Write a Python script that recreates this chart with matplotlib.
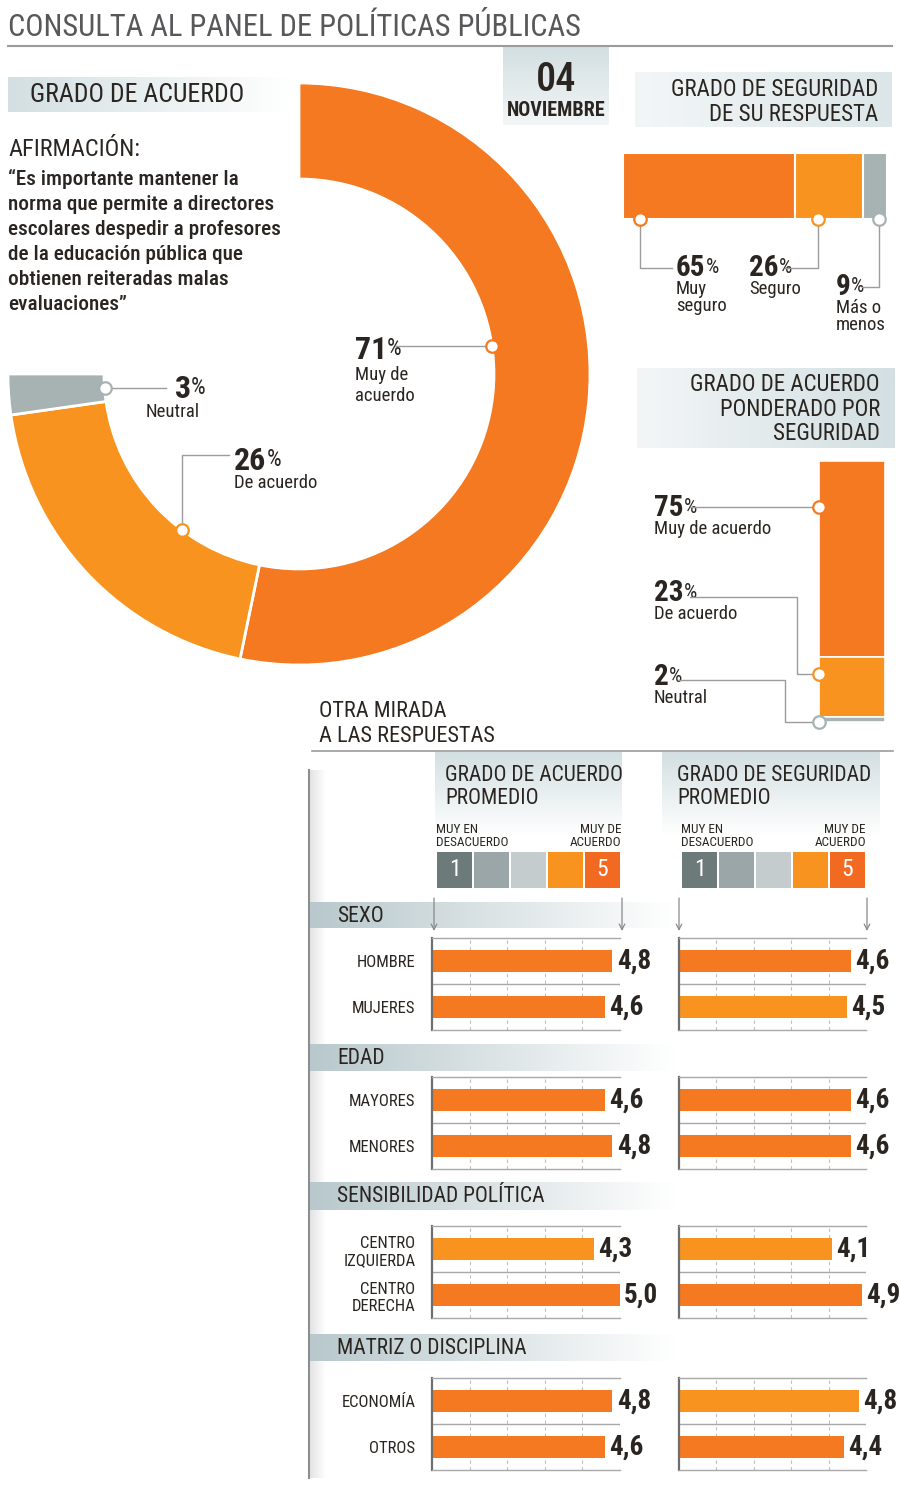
import numpy as np
import matplotlib
matplotlib.use('Agg')
import matplotlib.pyplot as plt
from matplotlib import font_manager
from matplotlib.colors import to_rgba

W, H = 900, 1486

# ---- data ----
acuerdo_labels = ['Muy de\nacuerdo', 'De acuerdo', 'Neutral']
acuerdo_pct = [71, 26, 3]

seguridad_labels = ['Muy\nseguro', 'Seguro', 'Más o\nmenos']
seguridad_pct = [65, 26, 9]

ponderado_labels = ['Muy de acuerdo', 'De acuerdo', 'Neutral']
ponderado_pct = [75, 23, 2]

scale_values = [1, 2, 3, 4, 5]

sections = ['SEXO', 'EDAD', 'SENSIBILIDAD POLÍTICA', 'MATRIZ O DISCIPLINA']
groups = [['HOMBRE', 'MUJERES'],
          ['MAYORES', 'MENORES'],
          ['CENTRO\nIZQUIERDA', 'CENTRO\nDERECHA'],
          ['ECONOMÍA', 'OTROS']]
acuerdo_prom = [[4.8, 4.6], [4.6, 4.8], [4.3, 5.0], [4.8, 4.6]]
seguridad_prom = [[4.6, 4.5], [4.6, 4.6], [4.1, 4.9], [4.8, 4.4]]

# ---- style ----
OR1 = '#F47920'
OR2 = '#F7931E'
GRIS = '#A7B2B3'
TXT = '#2A2520'
LINEA = '#9C9C9C'
CAJA = '#D3DFE2'
scale_colors = ['#6C7A7A', '#9AA6A7', '#C4CCCD', '#F7931E', '#F26A21']
acuerdo_cols = [[OR1, OR1], [OR1, OR1], [OR2, OR1], [OR1, OR1]]
seguridad_cols = [[OR1, OR2], [OR1, OR1], [OR2, OR1], [OR2, OR1]]

names = {f.name for f in font_manager.fontManager.ttflist}
COND = next((n for n in ['Liberation Sans Narrow', 'Roboto Condensed',
                         'DejaVu Sans Condensed'] if n in names), 'DejaVu Sans')
plt.rcParams['font.family'] = [COND, 'DejaVu Sans']

fig = plt.figure(figsize=(W / 100, H / 100), dpi=100)


def add_ax(x, y, w, h):
    return fig.add_axes([x / W, 1 - (y + h) / H, w / W, h / H])


def pixel_axes(z):
    a = add_ax(0, 0, W, H)
    a.set_zorder(z)
    a.axis('off')
    a.set_xlim(0, W)
    a.set_ylim(H, 0)
    a.set_autoscale_on(False)
    return a


bg = pixel_axes(-1)
ov = pixel_axes(10)


def grad(x0, x1, y0, y1, c0, c1, vertical=False):
    a, b = np.array(to_rgba(c0)), np.array(to_rgba(c1))
    t = np.linspace(0, 1, 256)[:, None]
    img = a + (b - a) * t
    img = img[:, None, :] if vertical else img[None, :, :]
    bg.imshow(img, extent=(x0, x1, y1, y0), aspect='auto', interpolation='bilinear')


def to_px(ax, x, y):
    d = ax.transData.transform((x, y))
    return ov.transData.inverted().transform(d)


def dot(p, col):
    ov.plot(p[0], p[1], 'o', ms=9, mfc='white', mec=col, mew=1.6, zorder=12)


def leader(p, pts):
    xs = [p[0]] + [q[0] for q in pts]
    ys = [p[1]] + [q[1] for q in pts]
    ov.plot(xs, ys, color=LINEA, lw=1, zorder=11)


def pct_label(x, y, value, sub, size=21, sub_x=None, sub_ha='left', ls=0.95, dy=12):
    t = ov.text(x, y, str(value), fontsize=size, fontweight='bold', color=TXT,
                ha='left', va='center')
    ov.annotate('%', xy=(1.0, 0.17), xycoords=t, fontsize=size * 0.72, color=TXT,
                ha='left', va='bottom')
    ov.text(sub_x if sub_x is not None else x, y + dy, sub, fontsize=13.5, color=TXT,
            ha=sub_ha, va='top', linespacing=ls)


# ---- header ----
ov.text(8, 27, 'CONSULTA AL PANEL DE POLÍTICAS PÚBLICAS', fontsize=22,
        color='#58585A', va='center')
ov.plot([8, 892], [46, 46], color=LINEA, lw=1.5)

grad(8, 290, 77, 112, CAJA, '#FFFFFF')
ov.text(30, 95, 'GRADO DE ACUERDO', fontsize=18.5, color=TXT, va='center')

grad(503, 609, 47, 125, CAJA, '#F3F6F7', vertical=True)
ov.text(556, 80, '04', fontsize=29, fontweight='medium', color=TXT,
        ha='center', va='center')
ov.text(556, 111, 'NOVIEMBRE', fontsize=14.5, fontweight='bold', color=TXT,
        ha='center', va='center')

grad(635, 892, 72, 127, '#F3F6F7', '#DCE6E8')
ov.text(878, 102, 'GRADO DE SEGURIDAD\nDE SU RESPUESTA', fontsize=16.5, color=TXT,
        ha='right', va='center', linespacing=1.1)

ov.text(8, 150, 'AFIRMACIÓN:', fontsize=17.5, color=TXT, va='center')
ov.text(8, 241, '“Es importante mantener la\nnorma que permite a directores\n'
        'escolares despedir a profesores\nde la educación pública que\n'
        'obtienen reiteradas malas\nevaluaciones”',
        fontsize=15.3, fontweight='medium', color=TXT, va='center', linespacing=1.4)

# ---- donut ----
axp = add_ax(8, 83, 582, 582)
gap = sum(acuerdo_pct) / 3
wedges, _ = axp.pie(acuerdo_pct + [gap], colors=[OR1, OR2, GRIS, 'white'],
                    startangle=90, counterclock=False, radius=1,
                    wedgeprops=dict(width=0.33, edgecolor='white', linewidth=2))
wedges[-1].set_visible(False)
axp.set_xlim(-1, 1)
axp.set_ylim(-1, 1)
axp.axis('off')

span = 270.0 / sum(acuerdo_pct)
cum = np.concatenate([[0], np.cumsum(acuerdo_pct)])
fr = [0.427, 0.357, 0.5]
pie_pts = []
for i in range(3):
    a = np.radians(90 - span * (cum[i] + fr[i] * acuerdo_pct[i]))
    pie_pts.append(to_px(axp, 0.67 * np.cos(a), 0.67 * np.sin(a)))
pie_cols = [OR1, OR2, GRIS]

leader(pie_pts[0], [(396, pie_pts[0][1])])
leader(pie_pts[1], [(pie_pts[1][0], 455), (229, 455)])
leader(pie_pts[2], [(166, pie_pts[2][1])])
for p, c in zip(pie_pts, pie_cols):
    dot(p, c)
pct_label(355, 350, acuerdo_pct[0], acuerdo_labels[0], size=23, ls=1.2, dy=16)
pct_label(234, 461, acuerdo_pct[1], acuerdo_labels[1], size=23, dy=13)
pct_label(175, 389, acuerdo_pct[2], acuerdo_labels[2], size=23, sub_x=200,
          sub_ha='right', dy=14)

# ---- seguridad stacked bar ----
axs = add_ax(623, 153, 264, 66)
left = np.concatenate([[0], np.cumsum(seguridad_pct)[:-1]])
axs.barh(0, seguridad_pct, left=left, height=1, color=[OR1, OR2, GRIS],
         edgecolor='white', linewidth=1.5)
axs.set_xlim(0, sum(seguridad_pct))
axs.set_ylim(-0.5, 0.5)
axs.axis('off')
fr = [0.1, 0.34, 0.67]
seg_pts = [to_px(axs, left[i] + fr[i] * seguridad_pct[i], -0.5) for i in range(3)]
leader(seg_pts[0], [(seg_pts[0][0], 268), (672, 268)])
leader(seg_pts[1], [(seg_pts[1][0], 268), (785, 268)])
leader(seg_pts[2], [(seg_pts[2][0], 287), (862, 287)])
for p, c in zip(seg_pts, [OR1, OR2, GRIS]):
    dot(p, c)
pct_label(676, 268, seguridad_pct[0], seguridad_labels[0], size=21)
pct_label(749, 268, seguridad_pct[1], seguridad_labels[1], size=21)
pct_label(836, 287, seguridad_pct[2], seguridad_labels[2], size=21)

# ---- ponderado vertical bar ----
grad(637, 895, 368, 448, '#F3F6F7', CAJA)
ov.text(880, 409, 'GRADO DE ACUERDO\nPONDERADO POR\nSEGURIDAD', fontsize=16.5,
        color=TXT, ha='right', va='center', linespacing=1.08)
axv = add_ax(819, 461, 66, 261)
bot = np.concatenate([[0], np.cumsum(ponderado_pct)[:-1]])
axv.bar(0, ponderado_pct, bottom=bot, width=1, color=[OR1, OR2, GRIS],
        edgecolor='white', linewidth=1.2)
axv.set_ylim(sum(ponderado_pct), 0)
axv.set_xlim(-0.5, 0.5)
axv.axis('off')
fr = [0.235, 0.29, 1.0]
pon_pts = [to_px(axv, -0.5, bot[i] + fr[i] * ponderado_pct[i]) for i in range(3)]
leader(pon_pts[0], [(690, pon_pts[0][1])])
leader(pon_pts[1], [(797, pon_pts[1][1]), (797, 597), (690, 597)])
leader(pon_pts[2], [(785, pon_pts[2][1]), (785, 680), (678, 680)])
for p, c in zip(pon_pts, [OR1, OR2, GRIS]):
    dot(p, c)
pct_label(654, 508, ponderado_pct[0], ponderado_labels[0], size=21)
pct_label(654, 593, ponderado_pct[1], ponderado_labels[1], size=21)
pct_label(654, 677, ponderado_pct[2], ponderado_labels[2], size=21)

# ---- otra mirada ----
ov.text(319, 724, 'OTRA MIRADA\nA LAS RESPUESTAS', fontsize=16, color=TXT,
        va='center', linespacing=1.2)
ov.plot([312, 893], [751, 751], color=LINEA, lw=1.2)
grad(309, 326, 770, 1478, '#E2E2E2', '#FFFFFF')
ov.plot([309, 309], [770, 1478], color='#8E8E8E', lw=1.5)

col_x = [432, 679]
col_w = [188, 187]
col_titles = ['GRADO DE ACUERDO\nPROMEDIO', 'GRADO DE SEGURIDAD\nPROMEDIO']
for j, (bx0, bx1) in enumerate([(435, 622), (662, 880)]):
    grad(bx0, bx1, 752, 835, CAJA, '#FFFFFF', vertical=True)
    ov.text(bx0 + 10 + 5 * j, 787, col_titles[j], fontsize=15.5, color=TXT,
            va='center', linespacing=1.15)
    kx = col_x[j] + 4 - 2 * j
    ov.text(kx, 836, 'MUY EN\nDESACUERDO', fontsize=9.5, color=TXT, va='center',
            linespacing=0.95)
    ov.text(kx + 185, 836, 'MUY DE\nACUERDO', fontsize=9.5, color=TXT, va='center',
            ha='right', multialignment='right', linespacing=0.95)
    axk = add_ax(kx, 852, 185, 36)
    axk.bar(scale_values, [1] * len(scale_values), width=0.95, color=scale_colors)
    axk.set_xlim(0.5, 5.5)
    axk.set_ylim(0, 1)
    axk.axis('off')
    for v in (scale_values[0], scale_values[-1]):
        axk.text(v, 0.5, str(v), color='white', fontsize=17, ha='center', va='center')
    for ax_x in (kx - 2, kx + 186):
        ov.annotate('', xy=(ax_x, 931), xytext=(ax_x, 898),
                    arrowprops=dict(arrowstyle='->', color='#8A8A8A', lw=0.9,
                                    shrinkA=0, shrinkB=0))

band_y = [(902, 928), (1044, 1071), (1182, 1210), (1334, 1361)]
panel_top = [938, 1077, 1226, 1378]


def fmt(v):
    return f'{v:.1f}'.replace('.', ',')


for i, sec in enumerate(sections):
    y0, y1 = band_y[i]
    grad(310, 675, y0, y1, '#B8C8CC', '#FFFFFF')
    ov.text(337, (y0 + y1) / 2 + 1, sec, fontsize=15.5, color=TXT, va='center')
    for j, (vals, cols) in enumerate([(acuerdo_prom[i], acuerdo_cols[i]),
                                      (seguridad_prom[i], seguridad_cols[i])]):
        ax = add_ax(col_x[j], panel_top[i], col_w[j], 92)
        ypos = np.arange(len(vals))
        for g in range(1, 6):
            ax.axvline(g, color='#BFBFBF', lw=0.8, ls=(0, (3, 3)), zorder=0)
        ax.axhline(0.5, color='#A8A8A8', lw=1, zorder=0)
        ax.barh(ypos, vals, height=0.47, color=cols, zorder=2)
        ax.set_xlim(0, 5)
        ax.set_ylim(1.5, -0.5)
        ax.set_facecolor('none')
        for s in ('top', 'bottom'):
            ax.spines[s].set_color('#A8A8A8')
            ax.spines[s].set_linewidth(1)
        ax.spines['left'].set_color('#6E6E6E')
        ax.spines['left'].set_linewidth(1.6)
        ax.spines['right'].set_visible(False)
        ax.set_xticks([])
        if j == 0:
            ax.set_yticks(ypos, groups[i], fontsize=12, color=TXT,
                          linespacing=1.2, multialignment='right')
            ax.tick_params(axis='y', length=0, pad=12)
        else:
            ax.set_yticks([])
        for y, v in zip(ypos, vals):
            ax.annotate(fmt(v), xy=(v, y), xytext=(3, 0), textcoords='offset points',
                        fontsize=19.5, fontweight='bold', color=TXT, ha='left',
                        va='center', annotation_clip=False)

fig.savefig('out.png', dpi=100)
